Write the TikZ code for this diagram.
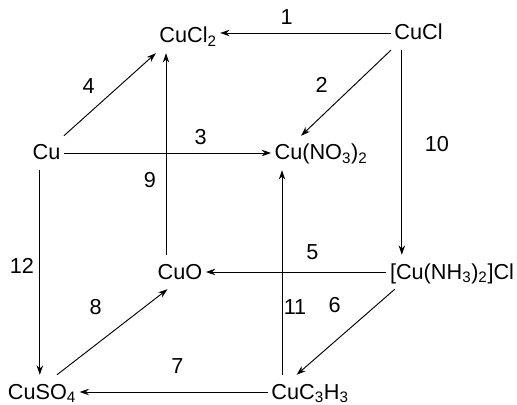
\documentclass[tikz,border=0pt]{standalone}
\usepackage{fontspec}
\setmainfont{Liberation Sans}
\usetikzlibrary{arrows.meta}

\begin{document}
\begin{tikzpicture}[x=0.03cm, y=-0.03cm]
    % Define styles
    \tikzstyle{chem} = [anchor=base, inner xsep=0.1cm, inner ysep=0.3cm, text height=0.42cm, text depth=0pt, font=\fontsize{18.5}{22}\selectfont]
    \tikzstyle{arrow} = [->, >={Stealth[length=8pt,width=5.5pt]}, line width=0.8pt]
    \tikzstyle{num} = [inner sep=0pt, font=\fontsize{18.5}{22}\selectfont]

    \useasboundingbox (0,0) rectangle (517,405);

    % Place nodes
    \node (CuCl2) [chem] at (188,43) {CuCl\textsubscript{2}};
    \node (CuCl) [chem] at (418.5,40) {CuCl};
    \node (Cu) [chem] at (46.5,160) {Cu};
    \node (CuNO) [chem] at (321,160) {Cu(NO\textsubscript{3})\textsubscript{2}};
    \node (CuO) [chem] at (180,279) {CuO};
    \node (CuNH) [chem] at (452,279) {[Cu(NH\textsubscript{3})\textsubscript{2}]Cl};
    \node (CuSO) [chem] at (42,399) {CuSO\textsubscript{4}};
    \node (CuCH) [chem] at (310,399) {CuC\textsubscript{3}H\textsubscript{3}};

    % Horizontal arrows
    \draw [arrow] (CuCl.west) -- (CuCl.west -| CuCl2.east) node[num, pos=0.61, yshift=0.48cm] {1};
    \draw [arrow] (Cu.east) -- (CuNO.west) node[num, pos=0.66, yshift=0.48cm] {3};
    \draw [arrow] (CuNH.west) -- (CuO.east) node[num, pos=0.41, yshift=0.6cm] {5};
    \draw [arrow] (CuCH.west) -- (CuSO.east) node[num, pos=0.48, yshift=0.78cm] {7};

    % Vertical arrows
    \draw [arrow] ([xshift=-0.2cm]Cu.south) -- ([xshift=-0.2cm]Cu.south |- CuSO.north) node[num, pos=0.47, xshift=-0.54cm] {12};
    \draw [arrow] ([xshift=-0.42cm]CuO.north) -- ([xshift=-0.42cm]CuO.north |- CuCl2.south) node[num, pos=0.37, xshift=-0.48cm] {9};
    \draw [arrow] ([xshift=-0.84cm]CuCH.north) -- ([xshift=-0.84cm]CuCH.north |- CuNO.south) node[num, pos=0.33, xshift=0.39cm] {11};
    \draw [arrow] ([xshift=-0.5cm]CuCl.south) -- ([xshift=-0.5cm]CuCl.south |- CuNH.north) node[num, pos=0.46, xshift=1.05cm] {10};

    % Diagonal arrows
    \draw [arrow] (Cu.north east) -- (CuCl2.south west) node[num, pos=0.45, xshift=-0.5cm, yshift=0.39cm] {4};
    \draw [arrow] (CuCl.south west) -- ([xshift=0.9cm]CuNO.north west) node[num, pos=0.4, xshift=-1cm] {2};
    \draw [arrow] ([xshift=0.45cm]CuSO.north) -- ([xshift=0.4cm]CuO.south west) node[num, pos=0.5, xshift=-0.5cm, yshift=0.74cm] {8};
    \draw [arrow] ([xshift=0.25cm]CuNH.south west) -- ([xshift=-0.4cm]CuCH.north) node[num, pos=0.4, xshift=-0.63cm, yshift=0.54cm] {6};
\end{tikzpicture}
\end{document}
